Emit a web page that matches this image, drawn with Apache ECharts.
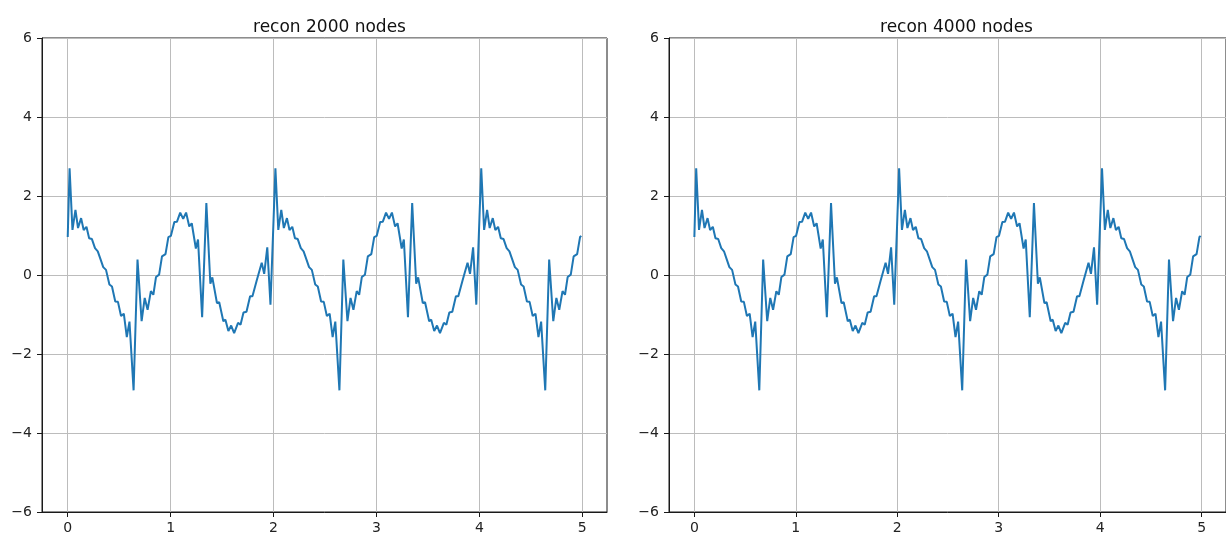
<!DOCTYPE html>
<html>
<head>
<meta charset="utf-8">
<script src="https://cdn.jsdelivr.net/npm/echarts@6/dist/echarts.min.js"></script>
<style>
  html, body { margin: 0; padding: 0; background: #ffffff; }
  #chart { width: 1226px; height: 535px; }
</style>
</head>
<body>
<div id="chart"></div>
<script>
// ---- data ----
var plotTitles = ['recon 2000 nodes', 'recon 4000 nodes'];
var xTickValues = [0, 1, 2, 3, 4, 5];
var yTickValues = [-6, -4, -2, 0, 2, 4, 6];

var reconX = [
  0.000,0.018,0.046,0.075,0.100,0.130,0.155,0.182,0.208,0.235,0.265,0.292,0.320,0.345,0.372,0.405,0.430,0.462,0.488,0.518,0.545,0.574,0.600,0.640,0.678,0.718,0.748,0.776,0.808,0.832,0.858,0.888,0.916,0.950,0.978,1.002,1.036,1.062,1.093,1.122,1.150,1.181,1.205,1.245,1.266,1.306,1.347,1.386,1.405,1.450,1.472,1.512,1.532,1.561,1.588,1.617,1.655,1.679,1.708,1.737,1.772,1.795,1.835,1.852,1.885,1.909,1.939,1.970,
  2.000,2.018,2.046,2.075,2.100,2.130,2.155,2.182,2.208,2.235,2.265,2.292,2.320,2.345,2.372,2.405,2.430,2.462,2.488,2.518,2.545,2.574,2.600,2.640,2.678,2.718,2.748,2.776,2.808,2.832,2.858,2.888,2.916,2.950,2.978,3.002,3.036,3.062,3.093,3.122,3.150,3.181,3.205,3.245,3.266,3.306,3.347,3.386,3.405,3.450,3.472,3.512,3.532,3.561,3.588,3.617,3.655,3.679,3.708,3.737,3.772,3.795,3.835,3.852,3.885,3.909,3.939,3.970,
  4.000,4.018,4.046,4.075,4.100,4.130,4.155,4.182,4.208,4.235,4.265,4.292,4.320,4.345,4.372,4.405,4.430,4.462,4.488,4.518,4.545,4.574,4.600,4.640,4.678,4.718,4.748,4.776,4.808,4.832,4.858,4.888,4.916,4.950,4.978,4.990
];

var recon2000 = [
  0.96,2.70,1.14,1.65,1.19,1.44,1.14,1.22,0.93,0.91,0.68,0.60,0.39,0.20,0.13,-0.24,-0.29,-0.67,-0.68,-1.04,-0.98,-1.57,-1.18,-2.92,0.39,-1.17,-0.58,-0.88,-0.41,-0.50,-0.05,0.01,0.47,0.53,0.96,0.99,1.34,1.35,1.58,1.42,1.58,1.23,1.31,0.67,0.90,-1.07,1.82,-0.22,-0.06,-0.71,-0.69,-1.17,-1.13,-1.42,-1.28,-1.47,-1.21,-1.26,-0.95,-0.93,-0.54,-0.54,-0.15,-0.20,0.31,0.03,0.70,-0.75,
  1.40,2.70,1.14,1.65,1.19,1.44,1.14,1.22,0.93,0.91,0.68,0.60,0.39,0.20,0.13,-0.24,-0.29,-0.67,-0.68,-1.04,-0.98,-1.57,-1.18,-2.92,0.39,-1.17,-0.58,-0.88,-0.41,-0.50,-0.05,0.01,0.47,0.53,0.96,0.99,1.34,1.35,1.58,1.42,1.58,1.23,1.31,0.67,0.90,-1.07,1.82,-0.22,-0.06,-0.71,-0.69,-1.17,-1.13,-1.42,-1.28,-1.47,-1.21,-1.26,-0.95,-0.93,-0.54,-0.54,-0.15,-0.20,0.31,0.03,0.70,-0.75,
  1.40,2.70,1.14,1.65,1.19,1.44,1.14,1.22,0.93,0.91,0.68,0.60,0.39,0.20,0.13,-0.24,-0.29,-0.67,-0.68,-1.04,-0.98,-1.57,-1.18,-2.92,0.39,-1.17,-0.58,-0.88,-0.41,-0.50,-0.05,0.01,0.47,0.53,0.96,0.99
];

var recon4000 = [
  0.96,2.70,1.14,1.65,1.19,1.44,1.14,1.22,0.93,0.91,0.68,0.60,0.39,0.20,0.13,-0.24,-0.29,-0.67,-0.68,-1.04,-0.98,-1.57,-1.18,-2.92,0.39,-1.17,-0.58,-0.88,-0.41,-0.50,-0.05,0.01,0.47,0.53,0.96,0.99,1.34,1.35,1.58,1.42,1.58,1.23,1.31,0.67,0.90,-1.07,1.82,-0.22,-0.06,-0.71,-0.69,-1.17,-1.13,-1.42,-1.28,-1.47,-1.21,-1.26,-0.95,-0.93,-0.54,-0.54,-0.15,-0.20,0.31,0.03,0.70,-0.75,
  1.40,2.70,1.14,1.65,1.19,1.44,1.14,1.22,0.93,0.91,0.68,0.60,0.39,0.20,0.13,-0.24,-0.29,-0.67,-0.68,-1.04,-0.98,-1.57,-1.18,-2.92,0.39,-1.17,-0.58,-0.88,-0.41,-0.50,-0.05,0.01,0.47,0.53,0.96,0.99,1.34,1.35,1.58,1.42,1.58,1.23,1.31,0.67,0.90,-1.07,1.82,-0.22,-0.06,-0.71,-0.69,-1.17,-1.13,-1.42,-1.28,-1.47,-1.21,-1.26,-0.95,-0.93,-0.54,-0.54,-0.15,-0.20,0.31,0.03,0.70,-0.75,
  1.40,2.70,1.14,1.65,1.19,1.44,1.14,1.22,0.93,0.91,0.68,0.60,0.39,0.20,0.13,-0.24,-0.29,-0.67,-0.68,-1.04,-0.98,-1.57,-1.18,-2.92,0.39,-1.17,-0.58,-0.88,-0.41,-0.50,-0.05,0.01,0.47,0.53,0.96,0.99
];

// ---- build chart ----
function pairs(xs, ys) {
  var out = [];
  for (var i = 0; i < xs.length && i < ys.length; i++) out.push([xs[i], ys[i]]);
  return out;
}
function minusFmt(v) { return String(v).replace('-', '\u2212'); }

var FONT = 'DejaVu Sans';
var AXIS_COLOR = '#1a1a1a';
var grids = [
  { left: 42, top: 38, width: 565, height: 474 },
  { left: 669, top: 38, width: 565, height: 474 }
];

function xAxisFor(i) {
  return {
    type: 'value', gridIndex: i, min: -0.25, max: 5.24, position: 'bottom',
    axisLine: { show: true, onZero: false, lineStyle: { color: AXIS_COLOR, width: 1 } },
    axisTick: { show: true, inside: false, length: 5, customValues: xTickValues, lineStyle: { color: AXIS_COLOR, width: 1 } },
    axisLabel: { customValues: xTickValues, margin: 9, color: '#222', fontSize: 14, fontFamily: FONT, formatter: minusFmt },
    splitLine: { show: true, lineStyle: { color: '#bcbcbc', width: 1 } }
  };
}
function yAxisFor(i) {
  return {
    type: 'value', gridIndex: i, min: -6, max: 6, interval: 2, position: 'left',
    axisLine: { show: true, onZero: false, lineStyle: { color: AXIS_COLOR, width: 1 } },
    axisTick: { show: true, inside: false, length: 5, lineStyle: { color: AXIS_COLOR, width: 1 } },
    axisLabel: { margin: 10, color: '#222', fontSize: 14, fontFamily: FONT, formatter: minusFmt },
    splitLine: { show: true, lineStyle: { color: '#bcbcbc', width: 1 } }
  };
}

var chart = echarts.init(document.getElementById('chart'), null, { renderer: 'canvas' });
chart.setOption({
  animation: false,
  backgroundColor: '#ffffff',
  title: [
    { text: plotTitles[0], left: 324.5, top: 14, textAlign: 'center',
      textStyle: { fontFamily: FONT, fontSize: 17, fontWeight: 'normal', color: '#111' } },
    { text: plotTitles[1], left: 951.5, top: 14, textAlign: 'center',
      textStyle: { fontFamily: FONT, fontSize: 17, fontWeight: 'normal', color: '#111' } }
  ],
  grid: grids.map(function (g) {
    return Object.assign({ show: true, borderColor: AXIS_COLOR, borderWidth: 1, backgroundColor: 'transparent', containLabel: false }, g);
  }),
  xAxis: [xAxisFor(0), xAxisFor(1)],
  yAxis: [yAxisFor(0), yAxisFor(1)],
  series: [
    { type: 'line', xAxisIndex: 0, yAxisIndex: 0, data: pairs(reconX, recon2000),
      showSymbol: false, symbol: 'none', lineStyle: { color: '#1f77b4', width: 2 }, z: 3 },
    { type: 'line', xAxisIndex: 1, yAxisIndex: 1, data: pairs(reconX, recon4000),
      showSymbol: false, symbol: 'none', lineStyle: { color: '#1f77b4', width: 2 }, z: 3 }
  ]
});
</script>
</body>
</html>
